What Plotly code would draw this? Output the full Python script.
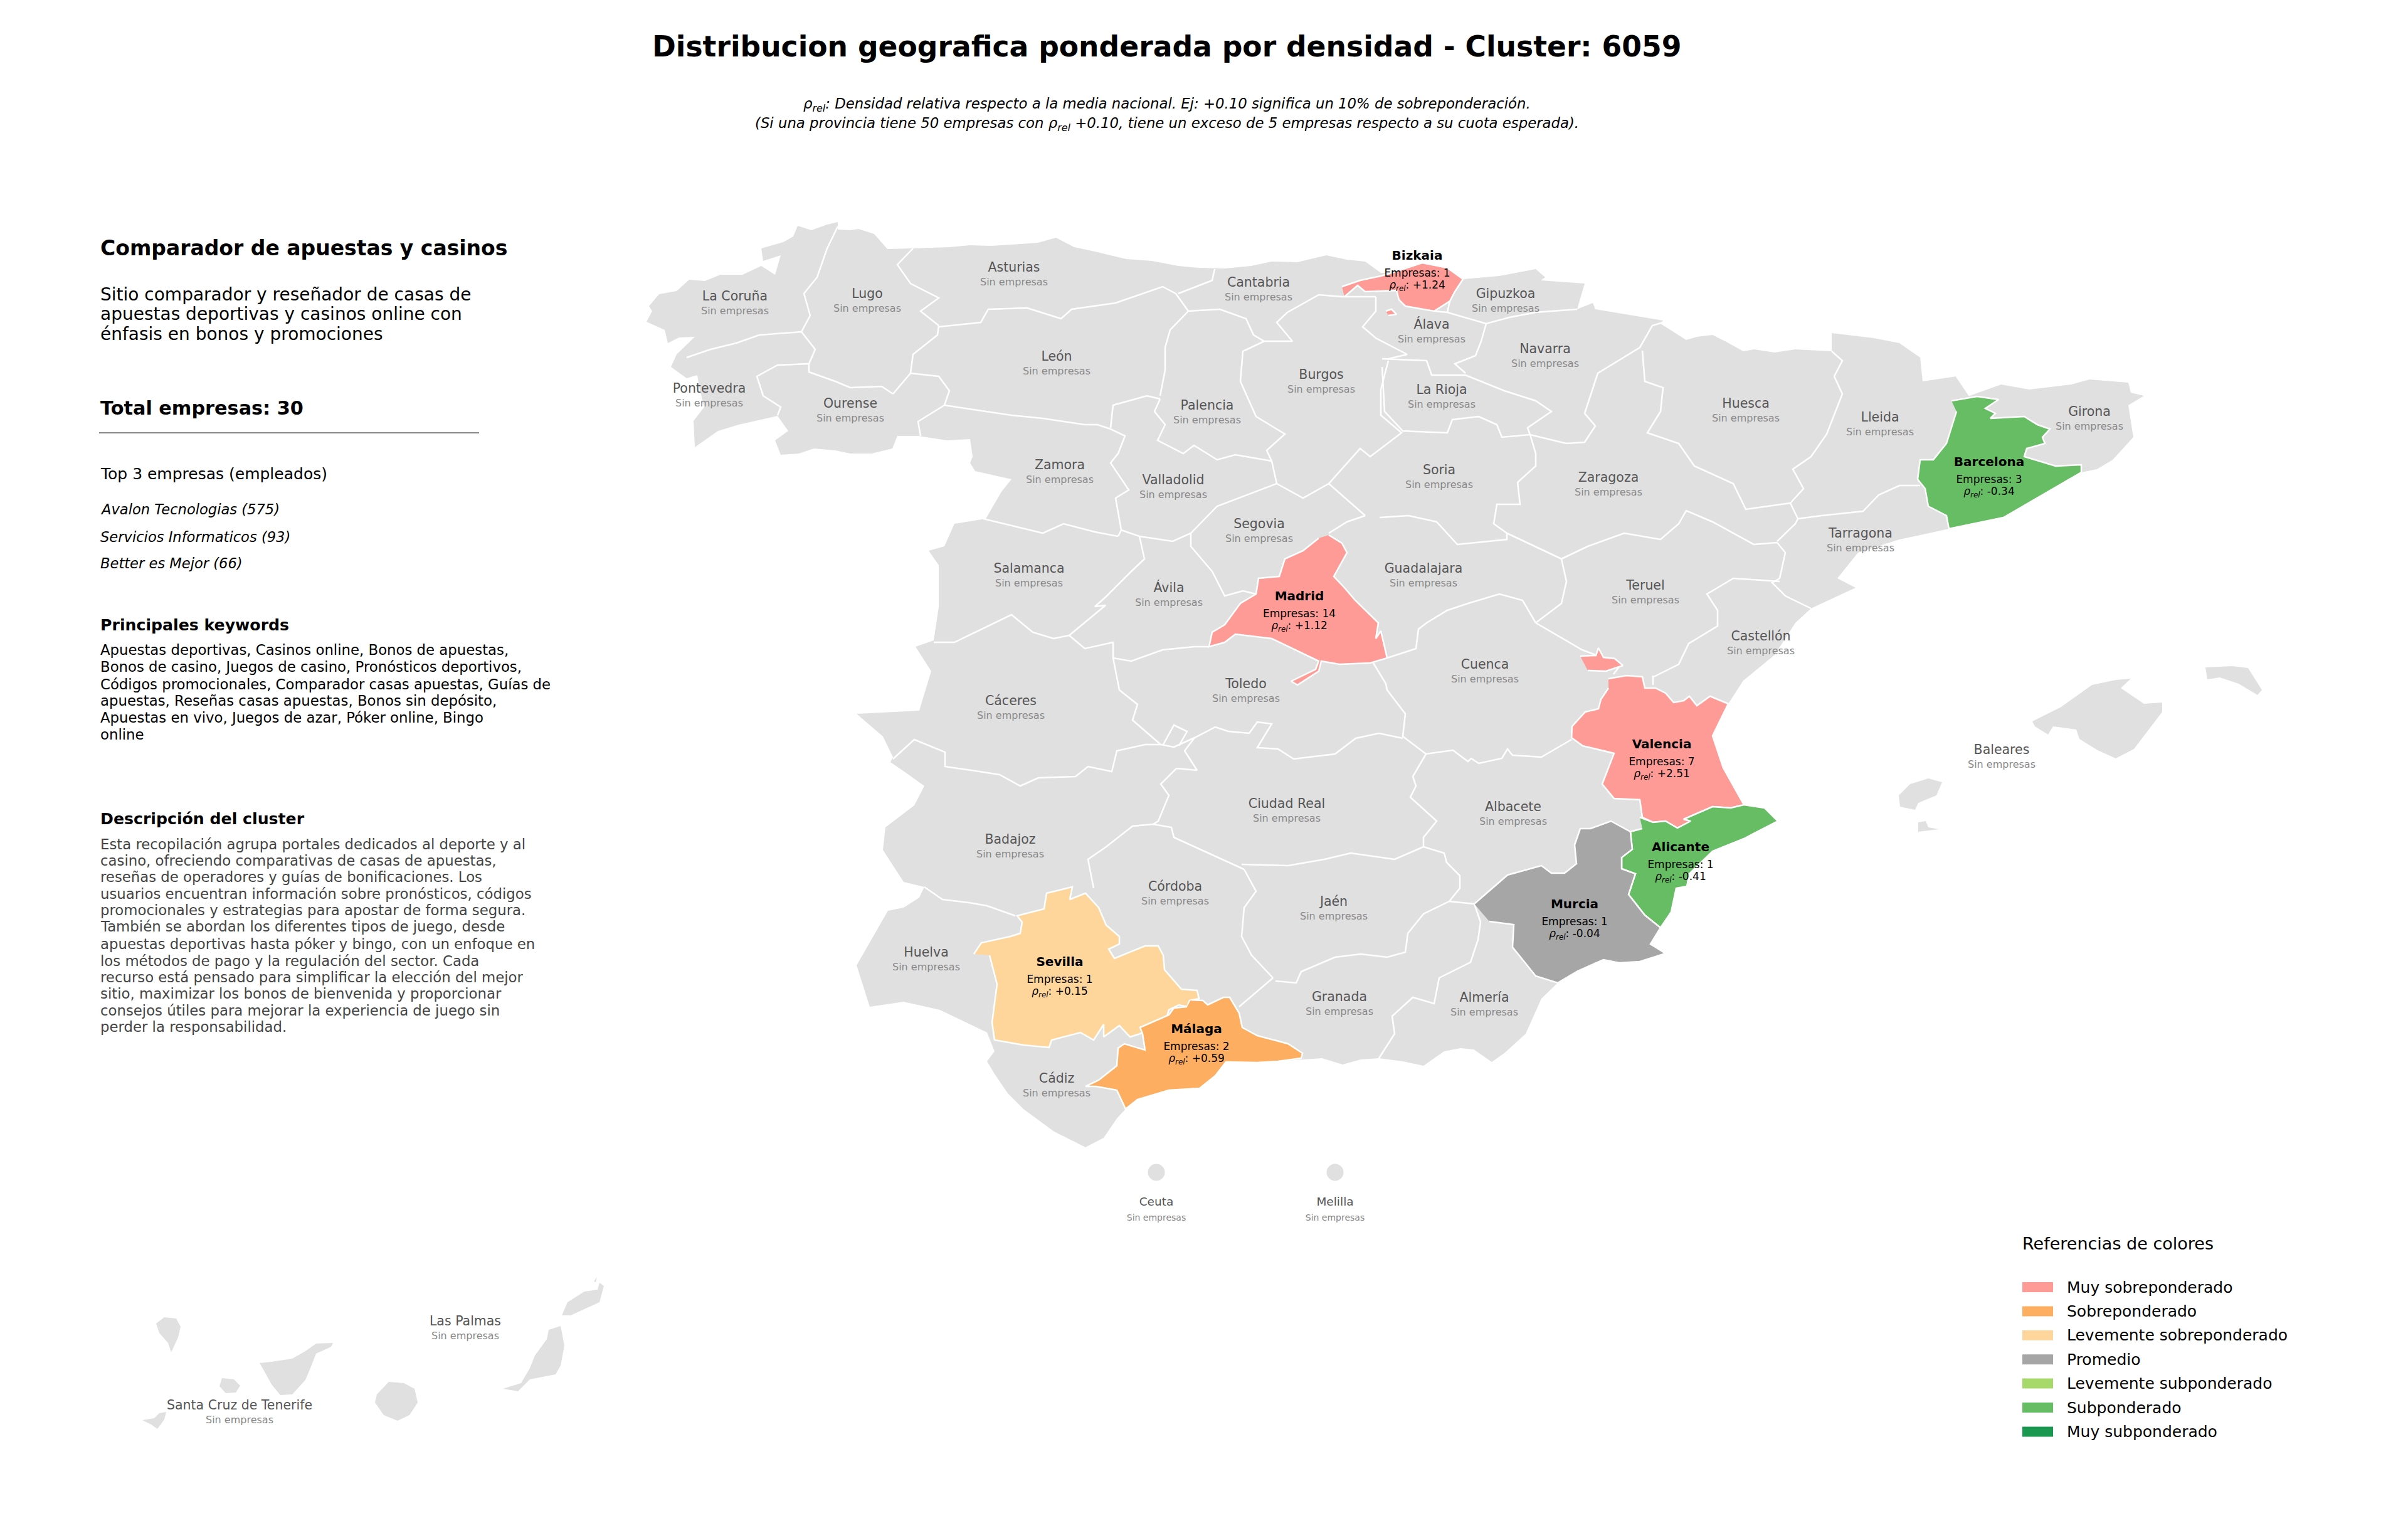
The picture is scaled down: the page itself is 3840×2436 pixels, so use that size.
import plotly.graph_objects as go

# outlines, in map units (1 unit = 1 px of the 3840x2436 page)
mainland = [
    (1031,513),(1040,496),(1035,488),(1051,469),(1079,464),(1099,446),(1124,448),(1149,438),(1184,438),(1214,424),(1236,438),
    (1245,407),(1217,416),(1214,396),(1249,386),(1265,377),(1272,360),(1294,367),(1319,358),(1336,354),(1336,366),(1356,367),
    (1369,365),(1394,373),(1415,397),(1456,396),(1514,394),(1547,391),(1580,392),(1613,390),(1655,387),(1684,379),(1713,394),
    (1746,401),(1796,413),(1837,416),(1879,424),(1912,427),(1953,428),(1995,424),(2028,417),(2069,418),(2115,407),(2148,414),
    (2177,417),(2202,435),(2219,435),(2268,419),(2308,427),(2333,445),(2391,440),(2449,429),(2464,442),(2457,447),(2527,452),
    (2515,493),(2540,483),(2544,493),(2652,511),(2648,516),(2689,542),(2706,537),(2731,534),(2751,544),(2780,560),(2797,557),
    (2830,562),(2863,557),(2921,560),(2921,531),(2988,539),(3029,547),(3062,570),(3066,608),(3120,600),(3141,631),(3191,613),
    (3236,621),(3303,613),(3332,605),(3394,610),(3398,626),(3419,631),(3394,646),(3402,697),(3369,733),(3344,748),
    (3319,753),(3195,825),(3108,843),(3029,860),(2963,881),(2930,922),(2959,937),(2888,970),(2863,993),(2830,1044),
    (2780,1085),(2756,1122),(2731,1173),(2748,1224),(2781,1283),(2814,1288),(2835,1309),(2781,1337),(2731,1357),
    (2694,1393),(2690,1413),(2673,1416),(2665,1454),(2648,1479),(2632,1505),(2656,1520),(2615,1533),(2582,1535),
    (2557,1530),(2516,1548),(2484,1567),(2458,1592),(2433,1648),(2400,1678),(2379,1693),(2350,1673),(2329,1671),(2303,1676),
    (2270,1699),(2237,1692),(2199,1687),(2170,1689),(2141,1697),(2108,1687),(2079,1689),(2038,1692),(1955,1694),(1938,1715),
    (1913,1735),(1864,1738),(1814,1753),(1795,1768),(1781,1783),(1760,1814),(1731,1829),(1681,1804),(1632,1768),(1607,1743),
    (1586,1712),(1574,1692),(1586,1676),(1574,1646),(1499,1610),(1441,1597),(1387,1605),(1366,1539),(1416,1452),(1441,1447),
    (1466,1431),(1474,1414),(1441,1406),(1408,1355),(1412,1319),(1458,1284),(1474,1253),(1449,1235),(1420,1215),
    (1424,1207),(1408,1174),(1366,1138),(1466,1133),(1468,1126),(1485,1070),(1460,1031),(1489,1021),(1497,968),
    (1497,901),(1481,878),(1506,871),(1522,835),(1572,827),(1597,784),(1613,764),(1555,751),(1547,738),(1551,728),(1547,700),
    (1510,702),(1464,695),(1431,695),(1423,715),(1390,723),(1356,723),(1332,718),(1298,715),(1274,723),(1245,725),(1236,702),
    (1257,687),(1240,663),(1178,677),(1145,687),(1108,713),(1106,671),(1123,649),(1116,621),(1112,598),(1095,603),(1070,585),
    (1079,565),(1108,537),(1083,538),(1065,547),(1060,526),
]
mallorca = [(3241,1150),(3287,1127),(3336,1092),(3374,1084),(3398,1082),(3382,1097),(3419,1122),(3448,1120),(3448,1135),
            (3419,1173),(3403,1194),(3374,1209),(3345,1196),(3316,1178),(3311,1163),(3274,1158),(3266,1171),(3245,1158)]
menorca = [(3517,1064),(3560,1062),(3585,1065),(3607,1100),(3600,1108),(3570,1090),(3540,1080),(3520,1083)]
ibiza = [(3028,1268),(3046,1250),(3075,1241),(3097,1247),(3088,1268),(3059,1280),(3054,1291),(3030,1286)]
formentera = [(3059,1311),(3071,1309),(3075,1319),(3092,1322),(3059,1326)]
la_palma = [(249,2110),(262,2100),(281,2102),(288,2115),(284,2132),(273,2156),(268,2141),(254,2125)]
tenerife = [(414,2173),(433,2171),(466,2166),(487,2154),(504,2142),(531,2141),(528,2147),(504,2158),(495,2181),(487,2200),
            (466,2223),(447,2224),(433,2207),(422,2187)]
gomera = [(354,2197),(373,2199),(383,2209),(376,2220),(360,2221),(350,2210)]
el_hierro = [(227,2264),(246,2261),(254,2253),(265,2251),(262,2263),(251,2278),(241,2271)]
gran_canaria = [(620,2203),(644,2205),(661,2214),(666,2236),(653,2256),(634,2265),(612,2256),(598,2236),(601,2223)]
fuerteventura = [(875,2120),(894,2114),(900,2145),(894,2177),(886,2191),(845,2199),(826,2218),(802,2214),(831,2205),
                 (845,2181),(853,2161),(872,2135)]
lanzarote = [(896,2097),(905,2076),(932,2059),(953,2056),(956,2045),(963,2050),(956,2076),(910,2097)]
graciosa = [(947,2043),(952,2036),(950,2044)]
land_parts = [mainland, mallorca, menorca, ibiza, formentera, la_palma, tenerife, gomera, el_hierro, gran_canaria,
              fuerteventura, lanzarote, graciosa]

# province limits, drawn white over the grey land
borders = [
    [(1336,361),(1319,396),(1303,442),(1282,468),(1292,503),(1278,529)],
    [(1278,529),(1211,534),(1174,547),(1133,557),(1095,570)],
    [(1278,529),(1300,557),(1290,580)],
    [(1290,580),(1240,582),(1207,600),(1217,631),(1245,649),(1240,662)],
    [(1290,580),(1290,593),(1332,608),(1356,618),(1406,616),(1424,628)],
    [(1456,396),(1431,422),(1452,452),(1497,475),(1468,496),(1497,519)],
    [(1497,519),(1495,534),(1456,565),(1452,595),(1424,628)],
    [(1452,595),(1497,600),(1514,623),(1506,646)],
    [(1506,646),(1464,672),(1468,695)],
    [(1497,521),(1564,514),(1576,493),(1638,491),(1692,508),(1709,493),(1779,483),(1854,457),(1875,468)],
    [(1937,429),(1933,447),(1879,468)],
    [(1875,468),(1895,496),(1945,493),(1987,508),(1999,534),(2016,544),(2061,544),(2036,514),(2053,498),(2103,470),(2140,473),(2194,473)],
    [(1895,496),(1866,526),(1858,554),(1858,590),(1850,631)],
    [(2016,544),(1982,560),(1978,608),(2003,664),(2049,692),(2020,718),(2028,735)],
    [(1771,682),(1775,646),(1829,631),(1850,636)],
    [(1850,636),(1841,656),(1858,677),(1846,702),(1887,723),(1904,710),(1941,733),(1970,725),(2028,735)],
    [(1506,646),(1613,662),(1663,667),(1730,677),(1750,677),(1771,684)],
    [(1771,684),(1794,695),(1783,723),(1771,738),(1800,781),(1779,794),(1788,845),(1783,855)],
    [(1568,827),(1622,840),(1663,850),(1696,835),(1746,848),(1783,855)],
    [(1788,845),(1817,855),(1870,863),(1899,850),(1941,807),(2036,771),(2028,735)],
    [(1817,855),(1825,891),(1804,911),(1763,952),(1746,967),(1763,965),(1705,1013)],
    [(1489,1024),(1522,1024),(1613,980),(1647,1008),(1680,1018),(1705,1013)],
    [(1705,1013),(1730,1034),(1775,1024),(1775,1049),(1804,1054),(1854,1036),(1904,1031),(1928,1031)],
    [(1899,850),(1899,871),(1933,911),(1953,950),(1982,942),(2003,947)],
    [(2036,771),(2078,794),(2119,771),(2177,822)],
    [(2119,771),(2169,715),(2185,728),(2235,690),(2202,662),(2202,621),(2214,575)],
    [(2177,822),(2148,832),(2119,850)],
    [(2200,825),(2246,822),(2291,832),(2324,868),(2403,860),(2403,850)],
    [(2204,585),(2208,656),(2237,687),(2308,690),(2316,669),(2358,664),(2387,677),(2395,697),(2440,693),(2436,682),(2474,656),
     (2449,639),(2399,623),(2337,598),(2283,598),(2275,575),(2204,572)],
    [(2440,693),(2449,723),(2449,743),(2420,769),(2424,804),(2387,804),(2382,835),(2403,850)],
    [(2440,693),(2498,707),(2527,705),(2544,679),(2527,659),(2548,595),(2615,554),(2635,519),(2652,514)],
    [(2619,559),(2623,608),(2652,618),(2648,656),(2627,690),(2677,707),(2702,743),(2764,771),(2784,812),(2855,802)],
    [(2921,560),(2938,575),(2925,600),(2938,628),(2913,692),(2888,728),(2859,748),(2876,779),(2855,802)],
    [(2855,802),(2867,827),(2863,835),(2834,863)],
    [(2403,850),(2490,891),(2532,871),(2590,850),(2648,860),(2677,835),(2689,814),(2731,832),(2797,868),(2834,865)],
    [(2867,827),(2905,822),(2971,815),(2996,789),(3029,774),(3062,774)],
    [(3120,600),(3141,631)],
    [(2834,865),(2847,881),(2838,922),(2826,929),(2847,950),(2888,970)],
    [(2838,927),(2764,922),(2739,937),(2722,947),(2739,973),(2739,998),(2693,1026),(2677,1059),(2635,1080)],
    [(2490,891),(2498,927),(2490,962),(2449,993)],
    [(2449,993),(2428,957),(2391,947),(2341,962),(2308,973),(2275,993),(2262,1003),(2258,1034),(2212,1049)],
    [(2449,993),(2523,1036),(2585,1059),(2573,1075)],
    [(2506,1179),(2458,1207),(2412,1204),(2404,1194),(2395,1209),(2358,1217),(2346,1209),(2341,1214),(2317,1196),(2274,1202)],
    [(2190,1057),(2210,1090),(2212,1100),(2241,1138),(2237,1174),(2274,1202)],
    [(2274,1202),(2253,1238),(2258,1253),(2249,1271),(2291,1309),(2270,1335),(2270,1350)],
    [(1775,1049),(1785,1100),(1814,1123),(1806,1148),(1851,1187)],
    [(1851,1187),(1872,1191),(1905,1176),(1938,1159),(1959,1166),(1992,1169),(2005,1151),(2028,1154),(2005,1192),(2038,1194),
     (2063,1210),(2129,1202),(2162,1177),(2199,1169),(2237,1177)],
    [(1424,1210),(1458,1179),(1507,1199),(1507,1222),(1549,1228),(1594,1235),(1627,1253),(1656,1240),(1715,1238),(1735,1222),
     (1773,1230),(1781,1197),(1826,1187),(1851,1187)],
    [(1855,1187),(1872,1156),(1893,1166),(1880,1189)],
    [(1905,1176),(1889,1197),(1909,1228),(1876,1225),(1851,1250),(1864,1268),(1847,1309),(1839,1314)],
    [(1839,1314),(1806,1317),(1764,1350),(1735,1370),(1744,1416)],
    [(1839,1314),(1868,1319),(1872,1335),(1938,1365),(1984,1386)],
    [(1980,1378),(2054,1380),(2112,1370),(2154,1360),(2224,1370),(2270,1350)],
    [(2270,1350),(2303,1360),(2307,1375),(2328,1396),(2328,1416),(2311,1437)],
    [(1984,1386),(2003,1421),(1984,1447),(1980,1493),(1996,1523),(2030,1559)],
    [(2034,1564),(2067,1567),(2075,1549),(2129,1526),(2170,1521),(2212,1526),(2241,1518),(2245,1488),(2270,1457),(2311,1437)],
    [(2311,1437),(2351,1441),(2361,1470)],
    [(2361,1470),(2357,1498),(2345,1534),(2295,1559),(2287,1600),(2253,1590),(2220,1620),(2224,1648),(2199,1687)],
    [(1474,1414),(1503,1434),(1545,1439),(1574,1444),(1619,1460)],
    [(2030,1559),(1976,1605)],
    [(2287,496),(2308,498),(2370,516),(2407,506),(2449,498),(2515,493)],
    [(2370,516),(2362,544),(2353,567),(2320,580),(2337,595)],
    [(2194,473),(2194,496),(2173,521),(2194,539),(2244,565),(2214,572)],
    [(2312,480),(2308,498)],
    [(2636,1077),(2636,1092)],
]

# provinces with companies: outlines, and what the label says
bizkaia = [(2140,457),(2169,447),(2202,440),(2219,435),(2268,419),(2308,427),(2333,445),(2320,465),(2312,480),(2287,496),(2241,488),
           (2231,478),(2227,463),(2177,465),(2165,455),(2144,473),None,(2210,496),(2219,493),(2227,501),(2214,503)]
madrid = [(2119,853),(2140,866),(2148,881),(2127,919),(2144,937),(2161,957),(2198,993),(2194,1018),(2202,1006),(2212,1049),(2185,1057),
          (2136,1059),(2107,1054),(2103,1070),(2069,1092),(2059,1086),(2098,1067),(2103,1054),(2028,1018),(1970,1011),(1953,1024),
          (1928,1031),(1933,1008),(1953,996),(1978,962),(2003,947),(2007,922),(2040,919),(2049,891),(2078,878),(2103,858)]
barcelona = [(3112,639),(3153,632),(3187,637),(3166,651),(3182,659),(3174,667),(3228,664),(3249,677),(3269,684),(3257,697),(3261,707),
             (3232,715),(3228,728),(3278,743),(3319,741),(3319,753),(3195,825),(3108,843),(3104,822),(3075,807),(3070,779),(3058,764),
             (3062,733),(3083,733),(3104,707),(3112,682),(3120,656)]
valencia = [(2565,1082),(2594,1077),(2619,1079),(2623,1097),(2640,1097),(2656,1105),(2669,1120),(2685,1117),(2694,1110),(2706,1125),
            (2727,1110),(2756,1122),(2731,1173),(2748,1224),(2781,1283),(2760,1288),(2731,1286),(2685,1306),(2696,1309),(2675,1320),
            (2656,1309),(2636,1311),(2619,1303),(2615,1275),(2574,1273),(2555,1250),(2574,1201),(2524,1189),(2506,1176),(2507,1158),
            (2528,1135),(2549,1130),(2553,1115),(2565,1097),None,(2520,1046),(2545,1045),(2549,1033),(2557,1048),(2575,1050),(2588,1061),
            (2561,1070),(2532,1069)]
alicante = [(2615,1303),(2636,1311),(2656,1309),(2675,1320),(2696,1309),(2685,1306),(2731,1286),(2760,1288),(2781,1283),(2814,1288),
            (2835,1309),(2781,1337),(2731,1357),(2694,1393),(2690,1413),(2673,1416),(2665,1454),(2648,1479),(2623,1459),(2597,1426),
            (2608,1393),(2586,1385),(2586,1367),(2603,1354),(2600,1326),(2619,1321)]
murcia = [(2351,1441),(2404,1395),(2458,1380),(2474,1392),(2495,1392),(2514,1377),(2511,1347),(2520,1321),(2536,1321),(2569,1309),
          (2600,1326),(2603,1354),(2586,1367),(2586,1385),(2608,1393),(2597,1426),(2623,1459),(2648,1479),(2632,1505),(2656,1520),
          (2615,1533),(2582,1535),(2557,1530),(2516,1548),(2484,1567),(2449,1556),(2412,1510),(2414,1474),(2375,1469)]
sevilla = [(1553,1521),(1565,1503),(1611,1493),(1627,1488),(1630,1470),(1622,1460),(1665,1449),(1669,1424),(1710,1414),(1706,1434),
           (1731,1424),(1752,1447),(1764,1475),(1785,1493),(1785,1505),(1768,1513),(1777,1528),(1826,1508),(1847,1508),(1855,1523),
           (1857,1546),(1884,1577),(1909,1579),(1912,1592),(1897,1595),(1893,1605),(1880,1602),(1864,1610),(1860,1623),(1818,1648),
           (1802,1653),(1785,1635),(1760,1653),(1760,1633),(1744,1658),(1723,1646),(1677,1658),(1673,1670),(1632,1666),(1586,1658),
           (1582,1630),(1590,1569),(1578,1523)]
malaga = [(1899,1594),(1918,1595),(1926,1602),(1951,1590),(1961,1590),(1976,1615),(1981,1638),(2005,1651),(2054,1664),(2077,1679),
          (2075,1687),(2038,1692),(2005,1694),(1955,1693),(1938,1715),(1913,1735),(1864,1738),(1814,1753),(1795,1768),(1781,1738),
          (1748,1732),(1731,1732),(1752,1722),(1781,1699),(1783,1671),(1793,1664),(1826,1674),(1822,1648),(1818,1638),(1864,1618),
          (1872,1607),(1893,1605)]

active_names = ["Bizkaia", "Madrid", "Barcelona", "Valencia", "Alicante", "Murcia", "Sevilla", "Málaga"]
active_outlines = [bizkaia, madrid, barcelona, valencia, alicante, murcia, sevilla, malaga]
active_empresas = [1, 14, 3, 7, 1, 1, 1, 2]
active_rho = [1.24, 1.12, -0.34, 2.51, -0.41, -0.04, 0.15, 0.59]
active_name_x = [2260, 2072, 3172, 2650, 2680, 2511, 1690, 1908]
active_name_y = [409, 952, 738, 1188, 1352, 1443, 1535, 1642]

empty_names = ["La Coruña", "Lugo", "Asturias", "Pontevedra", "Ourense", "León", "Cantabria", "Burgos", "Palencia", "Zamora",
               "Valladolid", "Segovia", "Salamanca", "Ávila", "Guadalajara", "Cáceres", "Toledo", "Gipuzkoa", "Álava", "Navarra",
               "La Rioja", "Huesca", "Lleida", "Girona", "Soria", "Zaragoza", "Tarragona", "Teruel", "Cuenca", "Castellón",
               "Ciudad Real", "Albacete", "Badajoz", "Córdoba", "Jaén", "Huelva", "Granada", "Almería", "Cádiz", "Baleares",
               "Las Palmas", "Santa Cruz de Tenerife"]
empty_x = [1172, 1383, 1617, 1131, 1356, 1685, 2007, 2107, 1925, 1690, 1871, 2008, 1641, 1864, 2270, 1612, 1987, 2401, 2283, 2464,
           2299, 2784, 2998, 3332, 2295, 2565, 2967, 2624, 2368, 2808, 2052, 2413, 1611, 1874, 2127, 1477, 2136, 2367, 1685, 3192,
           742, 382]
empty_y = [474, 470, 428, 621, 645, 570, 452, 599, 648, 743, 767, 837, 908, 939, 908, 1119, 1092, 470, 519, 558, 623, 645, 667, 658,
           751, 763, 852, 935, 1061, 1016, 1283, 1288, 1340, 1415, 1439, 1520, 1591, 1592, 1721, 1197, 2108, 2242]

city_names = ["Ceuta", "Melilla"]
city_x = [1844, 2129]
city_y = [1869, 1869]

legend_labels = ["Muy sobreponderado", "Sobreponderado", "Levemente sobreponderado", "Promedio",
                 "Levemente subponderado", "Subponderado", "Muy subponderado"]
legend_colors = ["#ff9b96", "#fdae61", "#fed69b", "#a6a6a6", "#a6d96a", "#66bd63", "#1a9850"]

keyword_lines = ["Apuestas deportivas, Casinos online, Bonos de apuestas,",
                 "Bonos de casino, Juegos de casino, Pronósticos deportivos,",
                 "Códigos promocionales, Comparador casas apuestas, Guías de",
                 "apuestas, Reseñas casas apuestas, Bonos sin depósito,",
                 "Apuestas en vivo, Juegos de azar, Póker online, Bingo",
                 "online"]
keyword_y = [1036, 1063, 1091, 1117, 1144, 1171]

description_lines = ["Esta recopilación agrupa portales dedicados al deporte y al",
                     "casino, ofreciendo comparativas de casas de apuestas,",
                     "reseñas de operadores y guías de bonificaciones. Los",
                     "usuarios encuentran información sobre pronósticos, códigos",
                     "promocionales y estrategias para apostar de forma segura.",
                     "También se abordan los diferentes tipos de juego, desde",
                     "apuestas deportivas hasta póker y bingo, con un enfoque en",
                     "los métodos de pago y la regulación del sector. Cada",
                     "recurso está pensado para simplificar la elección del mejor",
                     "sitio, maximizar los bonos de bienvenida y proporcionar",
                     "consejos útiles para mejorar la experiencia de juego sin",
                     "perder la responsabilidad."]
description_y = [1346, 1372, 1398, 1425, 1451, 1477, 1505, 1532, 1558, 1584, 1611, 1637]

FONT = "DejaVu Sans"
LAND = "#e0e0e0"


def xs(points):
    return [p[0] if p else None for p in points]


def ys(points):
    return [p[1] if p else None for p in points]


def rho_color(rho):
    if rho >= 1:
        return legend_colors[0]
    if rho >= 0.5:
        return legend_colors[1]
    if rho >= 0.1:
        return legend_colors[2]
    if rho > -0.1:
        return legend_colors[3]
    if rho > -0.3:
        return legend_colors[4]
    if rho > -0.5:
        return legend_colors[5]
    return legend_colors[6]


def add_text(x, y, text, size, color="black", anchor="left"):
    fig.add_annotation(x=x, y=y, xref="x", yref="y", text=text, showarrow=False, xanchor=anchor, yanchor="middle",
                       font=dict(family=FONT, size=size, color=color))


fig = go.Figure()

for part in land_parts:
    fig.add_trace(go.Scatter(x=xs(part), y=ys(part), mode="none", fill="toself", fillcolor=LAND, hoverinfo="skip"))

fig.add_trace(go.Scatter(x=city_x, y=city_y, mode="markers", marker=dict(size=27, color=LAND), hoverinfo="skip"))

for border in borders:
    fig.add_trace(go.Scatter(x=xs(border), y=ys(border), mode="lines", line=dict(color="white", width=2.5), hoverinfo="skip"))

for name, outline, rho in zip(active_names, active_outlines, active_rho):
    fig.add_trace(go.Scatter(x=xs(outline), y=ys(outline), mode="lines", fill="toself", fillcolor=rho_color(rho),
                             line=dict(color="white", width=2.5), name=name, hoverinfo="name"))

# labels of provinces without companies
fig.add_trace(go.Scatter(x=empty_x, y=empty_y, mode="text", text=empty_names, hoverinfo="skip",
                         textfont=dict(family=FONT, size=20.5, color="#555555")))
fig.add_trace(go.Scatter(x=empty_x, y=[y + 23 for y in empty_y], mode="text", text=["Sin empresas"] * len(empty_names),
                         hoverinfo="skip", textfont=dict(family=FONT, size=16, color="#888888")))
fig.add_trace(go.Scatter(x=city_x, y=[y + 48 for y in city_y], mode="text", text=city_names, hoverinfo="skip",
                         textfont=dict(family=FONT, size=18.5, color="#555555")))
fig.add_trace(go.Scatter(x=city_x, y=[y + 73 for y in city_y], mode="text", text=["Sin empresas"] * 2, hoverinfo="skip",
                         textfont=dict(family=FONT, size=14, color="#888888")))

# labels of provinces with companies
fig.add_trace(go.Scatter(x=active_name_x, y=active_name_y, mode="text", text=[f"<b>{n}</b>" for n in active_names],
                         hoverinfo="skip", textfont=dict(family=FONT, size=20, color="black")))
fig.add_trace(go.Scatter(x=active_name_x, y=[y + 28 for y in active_name_y], mode="text",
                         text=[f"Empresas: {n}" for n in active_empresas], hoverinfo="skip",
                         textfont=dict(family=FONT, size=17, color="black")))
fig.add_trace(go.Scatter(x=active_name_x, y=[y + 47 for y in active_name_y], mode="text",
                         text=[f"<i>ρ<sub>rel</sub></i>: {r:+.2f}" for r in active_rho], hoverinfo="skip",
                         textfont=dict(family=FONT, size=17, color="black")))

# title and note
add_text(1860, 74, "<b>Distribucion geografica ponderada por densidad - Cluster: 6059</b>", 45.6, anchor="center")
add_text(1861, 167, "<i>ρ<sub>rel</sub>: Densidad relativa respecto a la media nacional. Ej: +0.10 significa un 10% de sobreponderación.</i>",
         22.8, anchor="center")
add_text(1861, 198, "<i>(Si una provincia tiene 50 empresas con ρ<sub>rel</sub> +0.10, tiene un exceso de 5 empresas respecto a su cuota esperada).</i>",
         22.8, anchor="center")

# left panel
add_text(158, 395, "<b>Comparador de apuestas y casinos</b>", 33)
add_text(158, 469, "Sitio comparador y reseñador de casas de", 28)
add_text(158, 500, "apuestas deportivas y casinos online con", 28)
add_text(158, 532, "énfasis en bonos y promociones", 28)
add_text(158, 650, "<b>Total empresas: 30</b>", 30.3)
fig.add_shape(type="line", x0=158, x1=764, y0=690, y1=690, xref="x", yref="y", line=dict(color="#888888", width=2))
add_text(158, 755, "Top 3 empresas (empleados)", 25)
add_text(158, 812, "<i>Avalon Tecnologias (575)</i>", 22.6)
add_text(158, 856, "<i>Servicios Informaticos (93)</i>", 22.6)
add_text(158, 898, "<i>Better es Mejor (66)</i>", 22.6)
add_text(158, 996, "<b>Principales keywords</b>", 25.2)
for line, y in zip(keyword_lines, keyword_y):
    add_text(158, y, line, 22.8)
add_text(158, 1305, "<b>Descripción del cluster</b>", 25.2)
for line, y in zip(description_lines, description_y):
    add_text(158, y, line, 22.8, color="#444444")

# colour key
add_text(3223, 1982, "Referencias de colores", 27)
for i, (label, color) in enumerate(zip(legend_labels, legend_colors)):
    y = 2052 + i * 38.4
    fig.add_shape(type="rect", x0=3225, x1=3274, y0=y - 8, y1=y + 8, xref="x", yref="y", fillcolor=color, line=dict(width=0))
    add_text(3294, y, label, 25)

fig.update_layout(
    width=3840, height=2436,
    margin=dict(l=0, r=0, t=0, b=0),
    paper_bgcolor="white", plot_bgcolor="white",
    showlegend=False,
    xaxis=dict(range=[0, 3840], visible=False),
    yaxis=dict(range=[2436, 0], visible=False),
)

fig.write_html("out.html", config=dict(displayModeBar=False), post_script="document.body.style.margin='0';")
